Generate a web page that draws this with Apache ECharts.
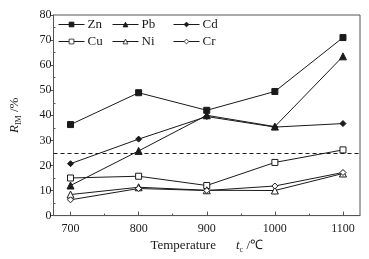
<!DOCTYPE html>
<html>
<head>
<meta charset="utf-8">
<script src="https://cdn.jsdelivr.net/npm/echarts@6/dist/echarts.min.js"></script>
<style>
html,body{margin:0;padding:0;background:#fff;}
#chart{width:369px;height:259px;}
</style>
</head>
<body>
<div id="chart"></div>
<script>
var temps = [700, 800, 900, 1000, 1100];
var zn = [36.3, 49.0, 42.0, 49.5, 71.0];
var pb = [12.0, 25.8, 40.0, 35.5, 63.5];
var cd = [20.7, 30.5, 39.5, 35.3, 36.7];
var cu = [15.0, 15.7, 12.0, 21.2, 26.2];
var ni = [8.4, 11.3, 10.1, 10.0, 16.8];
var cr = [6.3, 10.8, 10.0, 11.8, 17.2];
var xLabels = [700, 800, 900, 1000, 1100];
var xMinor = [750, 850, 950, 1050];
var yMinor = [5, 15, 25, 35, 45, 55, 65, 75];
var threshold = 25;

var font = 'Liberation Serif';
var ink = '#1a1a1a';

function pairs(vals){
    return temps.map(function(t, i){ return [t, vals[i]]; });
}

function line(name, vals, symbol, filled){
    return {
        name: name,
        type: 'line',
        data: pairs(vals),
        symbol: symbol,
        symbolSize: symbol == 'triangle' ? 7 : 6,
        lineStyle: {color: ink, width: 1},
        itemStyle: {color: filled ? ink : '#fff', borderColor: ink, borderWidth: 1},
        emphasis: {disabled: true}
    };
}

function legendCol(left, names){
    return {
        orient: 'vertical',
        left: left,
        top: 18,
        padding: 0,
        itemWidth: 26,
        itemHeight: 6,
        itemGap: 4,
        data: names,
        lineStyle: {width: 1},
        itemStyle: {borderWidth: 0.8},
        textStyle: {fontFamily: font, fontSize: 13, color: ink, padding: [0, 0, 0, -2]}
    };
}

var series = [
    line('Zn', zn, 'rect', true),
    line('Pb', pb, 'triangle', true),
    line('Cd', cd, 'diamond', true),
    line('Cu', cu, 'rect', false),
    line('Ni', ni, 'triangle', false),
    line('Cr', cr, 'diamond', false)
];
series[0].markLine = {
    silent: true,
    symbol: 'none',
    label: {show: false},
    lineStyle: {color: ink, type: [4, 3], width: 1},
    data: [{yAxis: threshold}]
};

var option = {
    animation: false,
    backgroundColor: '#fff',
    grid: {left: 44, right: 9, top: 15, bottom: 37, show: true, borderColor: '#555', borderWidth: 1},
    legend: [
        legendCol(58, ['Zn', 'Cu']),
        legendCol(112, ['Pb', 'Ni']),
        legendCol(173, ['Cd', 'Cr'])
    ],
    xAxis: [
        {
            type: 'value',
            min: 675,
            max: 1125,
            name: '{t|Temperature}      {i|t}{s|c} {t|/℃}',
            nameLocation: 'middle',
            nameGap: 22,
            nameTextStyle: {
                rich: {
                    t: {fontFamily: font, fontSize: 13, color: ink},
                    i: {fontFamily: font, fontSize: 13, fontStyle: 'italic', color: ink},
                    s: {fontFamily: font, fontSize: 8, color: ink, verticalAlign: 'bottom', padding: [8, 0, 0, 0]}
                }
            },
            axisLine: {lineStyle: {color: '#555'}},
            axisTick: {inside: true, length: 4, lineStyle: {color: '#555'}, customValues: xLabels},
            axisLabel: {
                fontFamily: font, fontSize: 12, color: ink, margin: 7, customValues: xLabels,
                formatter: function(v){ return String(v); }
            },
            splitLine: {show: false}
        },
        {
            type: 'value',
            min: 675,
            max: 1125,
            position: 'bottom',
            axisLine: {show: false},
            axisTick: {inside: true, length: 2, lineStyle: {color: '#555'}, customValues: xMinor},
            axisLabel: {show: false, customValues: xMinor},
            splitLine: {show: false}
        }
    ],
    yAxis: [
        {
            type: 'value',
            min: 0,
            max: 80,
            interval: 10,
            name: '{r|R}{s|IM} {t|/%}',
            nameLocation: 'middle',
            nameGap: 31,
            nameTextStyle: {
                rich: {
                    r: {fontFamily: font, fontSize: 13, fontStyle: 'italic', color: ink},
                    s: {fontFamily: font, fontSize: 8, color: ink, verticalAlign: 'bottom', padding: [8, 0, 0, 0]},
                    t: {fontFamily: font, fontSize: 13, color: ink}
                }
            },
            axisLine: {show: true, lineStyle: {color: '#555'}},
            axisTick: {show: true, inside: false, length: 3, lineStyle: {color: '#555'}},
            axisLabel: {fontFamily: font, fontSize: 12, color: ink, margin: 2},
            splitLine: {show: false}
        },
        {
            type: 'value',
            min: 0,
            max: 80,
            position: 'left',
            axisLine: {show: false},
            axisTick: {show: true, inside: true, length: 2, lineStyle: {color: '#555'}, customValues: yMinor},
            axisLabel: {show: false, customValues: yMinor},
            splitLine: {show: false}
        }
    ],
    series: series
};

var chartBox = document.getElementById('chart');
var chart = echarts.init(chartBox);
chart.setOption(option);
</script>
</body>
</html>
